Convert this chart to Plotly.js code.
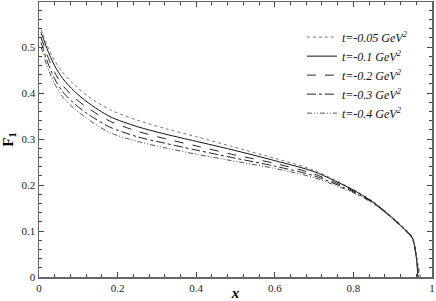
<!DOCTYPE html>
<html>
<head>
<meta charset="utf-8">
<script src="https://cdn.plot.ly/plotly-3.0.1.min.js"></script>
<style>
  body { margin: 0; background: #fff; }
  #chart { width: 436px; height: 301px; }
</style>
</head>
<body>
<div id="chart"></div>
<script>
// values
const xs = [0.005, 0.01, 0.02, 0.04, 0.06, 0.09, 0.125, 0.18, 0.25, 0.32, 0.4, 0.49, 0.6, 0.7, 0.8, 0.85, 0.9, 0.93, 0.95, 0.96]
const tLabels = ["t=-0.05 GeV<sup>2</sup>", "t=-0.1 GeV<sup>2</sup>", "t=-0.2 GeV<sup>2</sup>", "t=-0.3 GeV<sup>2</sup>", "t=-0.4 GeV<sup>2</sup>"]
const xEnd = [0.971, 0.964, 0.965, 0.966, 0.967]

const f1_005 = [0.538, 0.528, 0.505, 0.470, 0.445, 0.418, 0.393, 0.364, 0.341, 0.323, 0.305, 0.284, 0.258, 0.232, 0.190, 0.164, 0.129, 0.106, 0.087, 0.047]
const f1_01  = [0.532, 0.521, 0.497, 0.459, 0.432, 0.404, 0.379, 0.349, 0.327, 0.311, 0.295, 0.277, 0.253, 0.229, 0.189, 0.163, 0.128, 0.104, 0.085, 0.043]
const f1_02  = [0.520, 0.509, 0.484, 0.445, 0.417, 0.390, 0.367, 0.339, 0.317, 0.301, 0.285, 0.267, 0.247, 0.224, 0.187, 0.162, 0.128, 0.104, 0.085, 0.044]
const f1_03  = [0.510, 0.498, 0.471, 0.431, 0.403, 0.377, 0.354, 0.326, 0.305, 0.291, 0.276, 0.260, 0.241, 0.220, 0.185, 0.161, 0.127, 0.103, 0.084, 0.045]
const f1_04  = [0.500, 0.488, 0.460, 0.420, 0.392, 0.366, 0.343, 0.314, 0.295, 0.281, 0.267, 0.253, 0.236, 0.216, 0.183, 0.160, 0.126, 0.102, 0.083, 0.046]

const series = [f1_005, f1_01, f1_02, f1_03, f1_04]
const dashes = ["dot", "solid", "dash", "dashdot", "5px,2px,1px,2px,1px,2px"]
const colors = ["#777", "#111", "#222", "#222", "#555"]

const serif = "Liberation Serif"

const traces = series.map((ys, i) => ({
    x: xs.concat([xEnd[i]]),
    y: ys.concat([0]),
    name: tLabels[i],
    mode: "lines",
    line: { color: colors[i], width: 1, dash: dashes[i], shape: "spline", smoothing: 0.8 }
}))

const axisCommon = {
    showgrid: false,
    zeroline: false,
    showline: true,
    linecolor: "#666",
    linewidth: 1.5,
    mirror: "ticks",
    ticks: "inside",
    ticklen: 5,
    tickwidth: 1,
    tickcolor: "#444",
    tickfont: { family: serif, size: 11, color: "#222" },
    minor: { ticks: "inside", ticklen: 3, tickwidth: 1, tickcolor: "#444" }
}

const layout = {
    width: 436,
    height: 301,
    margin: { l: 39, r: 4, t: 2, b: 24 },
    paper_bgcolor: "#fff",
    plot_bgcolor: "#fff",
    font: { family: serif },
    showlegend: true,
    legend: {
        x: 0.669, y: 0.925, xanchor: "left", yanchor: "top",
        font: { family: serif, size: 12, color: "#111", style: "italic" },
        bgcolor: "rgba(0,0,0,0)",
        itemwidth: 30,
        tracegroupgap: 0
    },
    xaxis: Object.assign({}, axisCommon, {
        range: [0, 1],
        tickvals: [0, 0.2, 0.4, 0.6, 0.8, 1],
        ticktext: ["0", "0.2", "0.4", "0.6", "0.8", "1"],
        minor: Object.assign({}, axisCommon.minor, { dtick: 0.04 }),
        title: { text: "<b><i>x</i></b>", font: { family: serif, size: 15, color: "#000" }, standoff: 2 }
    }),
    yaxis: Object.assign({}, axisCommon, {
        range: [0, 0.598],
        tickvals: [0, 0.1, 0.2, 0.3, 0.4, 0.5],
        ticktext: ["0", "0.1", "0.2", "0.3", "0.4", "0.5"],
        minor: Object.assign({}, axisCommon.minor, { dtick: 0.02 }),
        title: { text: "<b>F<sub>1</sub></b>", font: { family: serif, size: 15, color: "#000" }, standoff: 6 }
    })
}

Plotly.newPlot("chart", traces, layout, { staticPlot: true, displayModeBar: false })
</script>
</body>
</html>
